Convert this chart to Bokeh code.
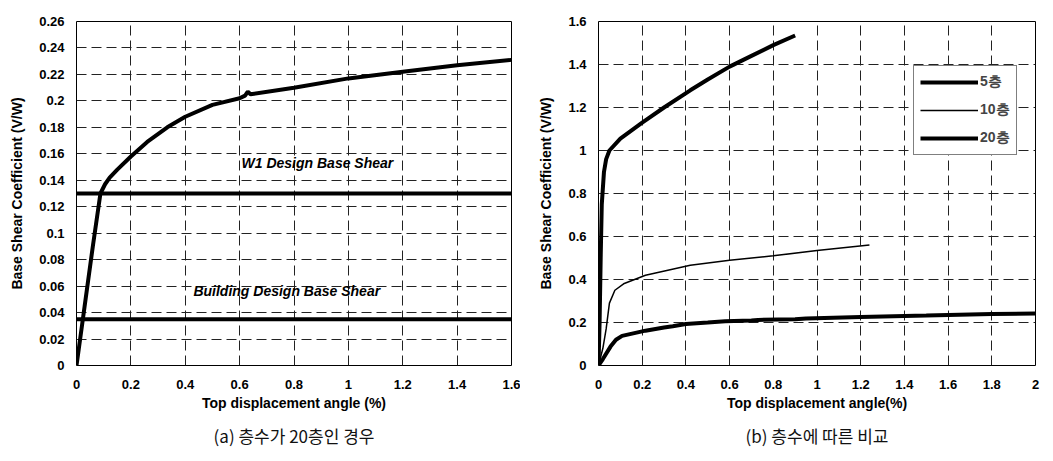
from bokeh.plotting import figure
from bokeh.layouts import row
from bokeh.models import FixedTicker, Range1d, Title, Legend, LegendItem
from bokeh.core.properties import value
from bokeh.embed import file_html
from bokeh.resources import INLINE

# ---------------- data: (a) 20-storey case ----------------
a_x = [0, 0.03, 0.06, 0.088, 0.105, 0.122, 0.15, 0.2, 0.26, 0.334, 0.4, 0.5, 0.6, 0.62, 0.63, 0.64, 0.8, 1.0, 1.2, 1.4, 1.6]
a_y = [0, 0.045, 0.09, 0.13, 0.137, 0.142, 0.148, 0.158, 0.169, 0.18, 0.188, 0.197, 0.202, 0.204, 0.207, 0.205, 0.21, 0.217, 0.222, 0.227, 0.231]
w1_design = 0.13
bldg_design = 0.035
a_xticks = [0, 0.2, 0.4, 0.6, 0.8, 1, 1.2, 1.4, 1.6]
a_xlabels = ["0", "0.2", "0.4", "0.6", "0.8", "1", "1.2", "1.4", "1.6"]
a_yticks = [0, 0.02, 0.04, 0.06, 0.08, 0.1, 0.12, 0.14, 0.16, 0.18, 0.2, 0.22, 0.24, 0.26]
a_ylabels = ["0", "0.02", "0.04", "0.06", "0.08", "0.1", "0.12", "0.14", "0.16", "0.18", "0.2", "0.22", "0.24", "0.26"]

# ---------------- data: (b) comparison by storeys ----------------
s5_x = [0, 0.005, 0.01, 0.015, 0.025, 0.035, 0.05, 0.1, 0.2, 0.3, 0.42, 0.5, 0.6, 0.7, 0.8, 0.9]
s5_y = [0, 0.2, 0.5, 0.75, 0.9, 0.96, 1.0, 1.055, 1.13, 1.20, 1.28, 1.33, 1.39, 1.44, 1.49, 1.535]
s10_x = [0, 0.02, 0.035, 0.05, 0.075, 0.115, 0.215, 0.42, 0.6, 0.8, 1.0, 1.24]
s10_y = [0, 0.08, 0.17, 0.29, 0.35, 0.38, 0.42, 0.466, 0.49, 0.51, 0.535, 0.56]
s20_x = [0, 0.02, 0.055, 0.08, 0.108, 0.215, 0.3, 0.34, 0.4, 0.5, 0.58, 0.7, 0.73, 0.9, 0.95, 1.2, 1.5, 1.8, 2.0]
s20_y = [0, 0.03, 0.088, 0.12, 0.138, 0.162, 0.177, 0.183, 0.193, 0.2, 0.206, 0.209, 0.212, 0.215, 0.219, 0.226, 0.232, 0.24, 0.242]
b_xticks = [0, 0.2, 0.4, 0.6, 0.8, 1, 1.2, 1.4, 1.6, 1.8, 2]
b_xlabels = ["0", "0.2", "0.4", "0.6", "0.8", "1", "1.2", "1.4", "1.6", "1.8", "2"]
b_yticks = [0, 0.2, 0.4, 0.6, 0.8, 1, 1.2, 1.4, 1.6]
b_ylabels = ["0", "0.2", "0.4", "0.6", "0.8", "1", "1.2", "1.4", "1.6"]
legend_labels = ["5층", "10층", "20층"]

FONT = "Liberation Sans"


def style(p, xt, xl, yt, yl, xlabel, caption, cap_offset):
    p.background_fill_color = "white"
    p.border_fill_color = "white"
    p.outline_line_color = "black"
    p.outline_line_width = 1
    p.xaxis.ticker = FixedTicker(ticks=xt)
    p.yaxis.ticker = FixedTicker(ticks=yt)
    p.xaxis.major_label_overrides = dict(zip(xt, xl))
    p.yaxis.major_label_overrides = dict(zip(yt, yl))
    for ax in (p.xaxis, p.yaxis):
        ax.axis_line_color = None
        ax.major_tick_line_color = None
        ax.minor_tick_line_color = None
        ax.major_tick_out = 0
        ax.major_tick_in = 0
        ax.minor_tick_out = 0
        ax.minor_tick_in = 0
        ax.major_label_text_font = FONT
        ax.major_label_text_font_style = "bold"
        ax.major_label_text_font_size = "13px"
        ax.major_label_text_color = "black"
        ax.axis_label_text_font = FONT
        ax.axis_label_text_font_style = "bold"
        ax.axis_label_text_font_size = "14px"
        ax.axis_label_text_color = "black"
    p.xaxis.major_label_standoff = 14
    p.yaxis.major_label_standoff = 12
    p.xaxis.axis_label = xlabel
    p.xaxis.axis_label_standoff = 3
    p.yaxis.axis_label = "Base Shear Coefficient (V/W)"
    p.yaxis.axis_label_standoff = 11
    for g in (p.xgrid, p.ygrid):
        g.grid_line_color = "#222222"
        g.grid_line_width = 1
        g.grid_line_dash = "10 5"
    t = Title(text=caption, align="center", offset=cap_offset, standoff=14,
              text_font="Noto Sans CJK KR", text_font_style="normal",
              text_font_size="17px", text_color="#111111")
    p.add_layout(t, "below")


# ---------------- figure (a) ----------------
p1 = figure(frame_width=435, frame_height=344, x_range=Range1d(0, 1.6), y_range=Range1d(0, 0.26),
            output_backend="svg", toolbar_location=None,
            min_border_left=76, min_border_right=9, min_border_top=21, min_border_bottom=96)
style(p1, a_xticks, a_xlabels, a_yticks, a_ylabels, "Top displacement angle (%)", "(a) 층수가 20층인 경우", -22)
p1.line(a_x, a_y, line_color="black", line_width=4)
p1.line([0, 1.6], [w1_design, w1_design], line_color="black", line_width=4)
p1.line([0, 1.6], [bldg_design, bldg_design], line_color="black", line_width=4)
p1.text(x=[0.607], y=[0.153], text=["W1 Design Base Shear"], text_font=value(FONT),
        text_font_style="bold italic", text_font_size="14px", text_baseline="middle", text_align="left")
p1.text(x=[0.43], y=[0.056], text=["Building Design Base Shear"], text_font=value(FONT),
        text_font_style="bold italic", text_font_size="14px", text_baseline="middle", text_align="left")

# ---------------- figure (b) ----------------
p2 = figure(frame_width=437, frame_height=344, x_range=Range1d(0, 2), y_range=Range1d(0, 1.6),
            output_backend="svg", toolbar_location=None,
            min_border_left=78, min_border_right=18, min_border_top=18, min_border_bottom=99)
style(p2, b_xticks, b_xlabels, b_yticks, b_ylabels, "Top displacement angle(%)", "(b) 층수에 따른 비교", -25)
r5 = p2.line(s5_x, s5_y, line_color="black", line_width=4)
r10 = p2.line(s10_x, s10_y, line_color="black", line_width=1.5)
r20 = p2.line(s20_x, s20_y, line_color="black", line_width=4)
leg = Legend(items=[LegendItem(label=legend_labels[0], renderers=[r5]),
                    LegendItem(label=legend_labels[1], renderers=[r10]),
                    LegendItem(label=legend_labels[2], renderers=[r20])],
             location=(315, 210))
leg.border_line_color = "black"
leg.border_line_width = 1
leg.background_fill_color = "white"
leg.background_fill_alpha = 1
leg.label_text_font = FONT
leg.label_text_font_style = "bold"
leg.label_text_font_size = "14px"
leg.glyph_width = 58
leg.glyph_height = 20
leg.spacing = 8
leg.padding = 6
leg.margin = 0
leg.label_standoff = 2
p2.add_layout(leg)

layout = row(p1, p2)
open("out.html", "w").write(file_html(layout, INLINE))
